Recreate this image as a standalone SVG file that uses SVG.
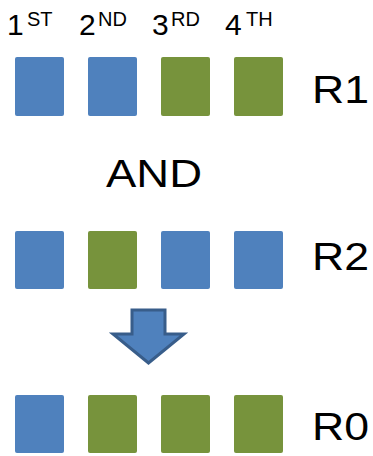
<svg xmlns="http://www.w3.org/2000/svg" width="373" height="456" viewBox="0 0 373 456">
<style>
.b{fill:#4F81BD}
.g{fill:#77933C}
.t{font-family:"Liberation Sans",Arial,sans-serif;fill:#000}
.big{font-size:30px}
.sup{font-size:20px}
.lbl{font-size:39px}
</style>
<rect width="373" height="456" fill="#fff"/>
<g id="headers" class="t">
<text class="big" x="7" y="35">1</text>
<text class="sup" x="27" y="26">ST</text>
<text class="big" x="79" y="35">2</text>
<text class="sup" x="98" y="26">ND</text>
<text class="big" x="152" y="35">3</text>
<text class="sup" x="171" y="26">RD</text>
<text class="big" x="225" y="35">4</text>
<text class="sup" x="246" y="26">TH</text>
</g>
<g id="R1">
<rect class="b" x="15" y="57" width="49" height="59" rx="2"/>
<rect class="b" x="88" y="57" width="49" height="59" rx="2"/>
<rect class="g" x="161" y="57" width="49" height="59" rx="2"/>
<rect class="g" x="234" y="57" width="49" height="59" rx="2"/>
<text class="t lbl" x="312" y="103" textLength="57" lengthAdjust="spacingAndGlyphs">R1</text>
</g>
<g id="and">
<text class="t" x="106" y="187" font-size="38" textLength="96" lengthAdjust="spacingAndGlyphs">AND</text>
</g>
<g id="R2">
<rect class="b" x="15" y="231" width="49" height="58" rx="2"/>
<rect class="g" x="88" y="231" width="49" height="58" rx="2"/>
<rect class="b" x="161" y="231" width="49" height="58" rx="2"/>
<rect class="b" x="234" y="231" width="49" height="58" rx="2"/>
<text class="t lbl" x="312" y="270" textLength="57" lengthAdjust="spacingAndGlyphs">R2</text>
</g>
<g id="connectors">
<polygon points="132,310 165,310 165,334 184,334 148.5,363 113,334 132,334" fill="#4F81BD" stroke="#385D8A" stroke-width="3" stroke-linejoin="miter"/>
</g>
<g id="R0">
<rect class="b" x="15" y="395" width="49" height="58" rx="2"/>
<rect class="g" x="88" y="395" width="49" height="58" rx="2"/>
<rect class="g" x="161" y="395" width="49" height="58" rx="2"/>
<rect class="g" x="234" y="395" width="49" height="58" rx="2"/>
<text class="t lbl" x="312" y="440" textLength="57" lengthAdjust="spacingAndGlyphs">R0</text>
</g>
</svg>
